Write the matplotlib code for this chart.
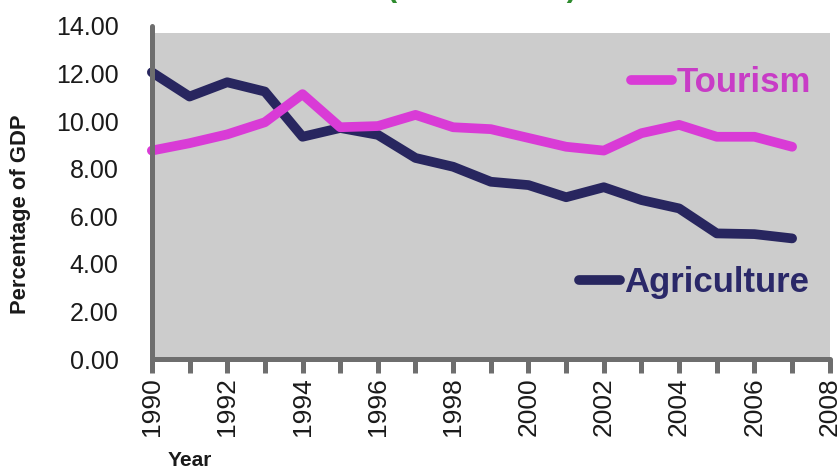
import matplotlib
matplotlib.use("Agg")
import matplotlib.pyplot as plt
from matplotlib.ticker import MultipleLocator, FormatStrFormatter

plt.rcParams['font.family'] = ['Liberation Sans', 'DejaVu Sans']

years = list(range(1990, 2008))
agriculture = [12.05, 11.03, 11.63, 11.24, 9.34, 9.71, 9.42, 8.45, 8.08,
               7.45, 7.31, 6.80, 7.22, 6.68, 6.33, 5.28, 5.25, 5.07]
tourism = [8.76, 9.07, 9.44, 9.95, 11.13, 9.74, 9.79, 10.26, 9.74,
           9.66, 9.29, 8.92, 8.76, 9.49, 9.84, 9.34, 9.34, 8.92]
series_names = ["Tourism", "Agriculture"]
y_label = "Percentage of GDP"
x_label = "Year"
title_text = "(1990 \u2013 2007)"

AGR = "#28265F"
TOU = "#D93BD6"
SPINE = "#6E6E6E"

fig = plt.figure(figsize=(8.39, 4.70), dpi=100)
ax = fig.add_axes([0.181, 0.236, 0.808, 0.709])
ax.set_facecolor("white")
ax.set_xlim(1990, 2008)
ax.set_ylim(0, 14)

ax.axhspan(0, 13.72, color="#CCCCCC", zorder=0, lw=0)

l_agr, = ax.plot(years, agriculture, color=AGR, lw=7, solid_capstyle="round",
                 solid_joinstyle="round", zorder=3, clip_on=False)
l_tou, = ax.plot(years, tourism, color=TOU, lw=7, solid_capstyle="round",
                 solid_joinstyle="round", zorder=4, clip_on=False)

for s in ["top", "right"]:
    ax.spines[s].set_visible(False)
for s in ["left", "bottom"]:
    ax.spines[s].set_color(SPINE)
    ax.spines[s].set_linewidth(3.6)
    ax.spines[s].set_capstyle("round")
    ax.spines[s].set_zorder(5)

ax.yaxis.set_major_locator(MultipleLocator(2))
ax.yaxis.set_major_formatter(FormatStrFormatter("%.2f"))
ax.tick_params(axis="y", length=0, pad=24, labelsize=18, labelcolor="#1a1a1a")

ax.xaxis.set_major_locator(MultipleLocator(2))
ax.xaxis.set_minor_locator(MultipleLocator(1))
ax.tick_params(axis="x", which="both", direction="out", length=10, width=3.6,
               color=SPINE, pad=3)
ax.tick_params(axis="x", which="major", labelsize=19, labelrotation=90,
               labelcolor="#1a1a1a")
for t in ax.xaxis.get_major_ticks() + ax.xaxis.get_minor_ticks():
    t.tick1line.set_solid_capstyle("round")

fig.text(0.024, 0.545, y_label, rotation=90, ha="center", va="center",
         fontsize=15.8, fontweight="bold", color="#1a1a1a")
fig.text(0.226, 0.021, x_label, ha="center", va="center",
         fontsize=15, fontweight="bold", color="#1a1a1a")

leg1 = ax.legend([l_tou], [series_names[0]], loc="center right",
                 bbox_to_anchor=(0.972, 0.83), frameon=False, borderpad=0,
                 borderaxespad=0, handlelength=1.2, handletextpad=0.12,
                 prop={"size": 25, "weight": "bold"})
for t in leg1.get_texts():
    t.set_color("#C83CC6")
ax.add_artist(leg1)
leg2 = ax.legend([l_agr], [series_names[1]], loc="center right",
                 bbox_to_anchor=(0.970, 0.23), frameon=False, borderpad=0,
                 borderaxespad=0, handlelength=1.2, handletextpad=0.12,
                 prop={"size": 25, "weight": "bold"})
for t in leg2.get_texts():
    t.set_color("#2A2868")

fig.text(0.575, 1.009, title_text, ha="center", va="baseline", fontsize=22,
         fontweight="bold", color="#2E8B2E")

fig.savefig("out.png", dpi=100)
